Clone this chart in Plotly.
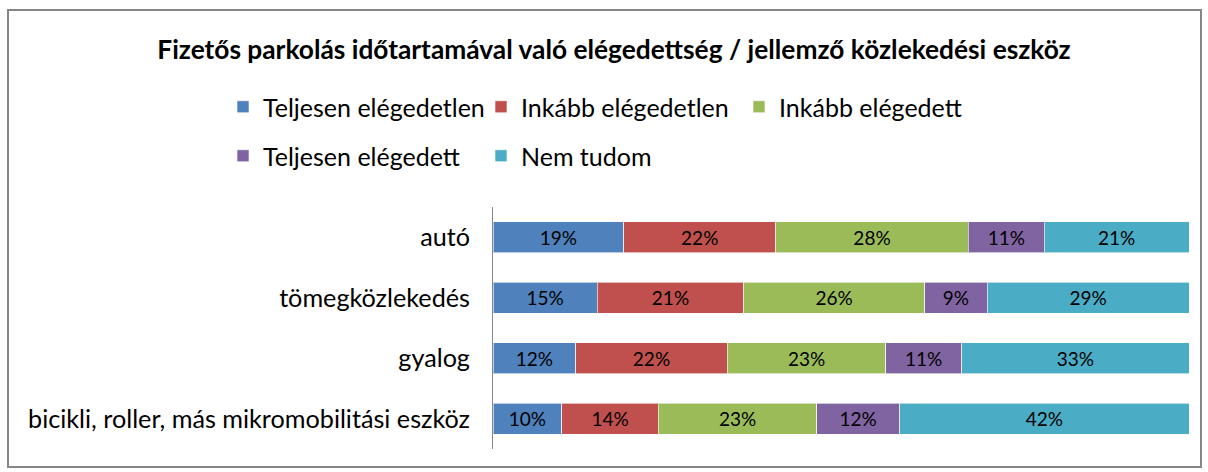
import plotly.graph_objects as go

categories = ["autó", "tömegközlekedés", "gyalog", "bicikli, roller, más mikromobilitási eszköz"]
series_names = ["Teljesen elégedetlen", "Inkább elégedetlen", "Inkább elégedett", "Teljesen elégedett", "Nem tudom"]
teljesen_elegedetlen = [19, 15, 12, 10]
inkabb_elegedetlen = [22, 21, 22, 14]
inkabb_elegedett = [28, 26, 23, 23]
teljesen_elegedett = [11, 9, 11, 12]
nem_tudom = [21, 29, 33, 42]
colors = ["#4F81BD", "#C0504D", "#9BBB59", "#8064A2", "#4BACC6"]

series_values = [teljesen_elegedetlen, inkabb_elegedetlen, inkabb_elegedett, teljesen_elegedett, nem_tudom]
legend_ids = ["legend", "legend", "legend", "legend2", "legend2"]

FONT = "Lato"
W, H = 1208, 472
L, R, T, B = 493, 19, 207, 23
pw, ph = W - L - R, H - T - B

fig = go.Figure()
for name, vals, col, lg in zip(series_names, series_values, colors, legend_ids):
    fig.add_trace(go.Bar(
        y=categories, x=vals, name=name, orientation="h",
        marker=dict(color=col, line=dict(color="rgba(255,255,255,0.6)", width=1)),
        text=[f"{v}%" for v in vals], textposition="inside", insidetextanchor="middle",
        textangle=0, textfont=dict(family=FONT, size=19, color="#000000"),
        legend=lg, hoverinfo="skip",
    ))

def px2x(p):
    return (p - L) / pw

def py2y(p):
    return (H - B - p) / ph

legend_common = dict(orientation="h", xanchor="left", yanchor="middle", traceorder="normal",
                     entrywidth=213, entrywidthmode="pixels", font=dict(family=FONT, size=25),
                     bgcolor="rgba(0,0,0,0)", itemclick=False, itemdoubleclick=False)

fig.update_layout(
    width=W, height=H, barmode="stack", barnorm="percent", bargap=0.49,
    margin=dict(l=L, r=R, t=T, b=B, autoexpand=False),
    paper_bgcolor="white", plot_bgcolor="white",
    font=dict(family=FONT, color="#000000"),
    uniformtext=dict(mode="show", minsize=19),
    title=dict(text="<b>Fizetős parkolás időtartamával való elégedettség / jellemző közlekedési eszköz</b>",
               x=614 / W, xanchor="center", xref="container", y=1 - 50 / H, yanchor="middle",
               font=dict(family=FONT, size=26.3, color="#000000")),
    xaxis=dict(range=[0, 100], visible=False, fixedrange=True),
    yaxis=dict(autorange="reversed", showline=True, linecolor="#868686", linewidth=1,
               showgrid=False, ticks="", ticklabelstandoff=17,
               tickfont=dict(family=FONT, size=25.2, color="#000000"), fixedrange=True),
    legend=dict(x=px2x(223), y=py2y(107), **legend_common),
    legend2=dict(x=px2x(223), y=py2y(156), **legend_common),
    shapes=[dict(type="rect", xref="paper", yref="paper",
                 x0=px2x(8), x1=px2x(1201), y0=py2y(467), y1=py2y(10),
                 line=dict(color="#868686", width=2), fillcolor="rgba(0,0,0,0)", layer="below")],
)

fig.write_html("out.html", config={"displayModeBar": False},
               post_script="document.body.style.margin='0';")
